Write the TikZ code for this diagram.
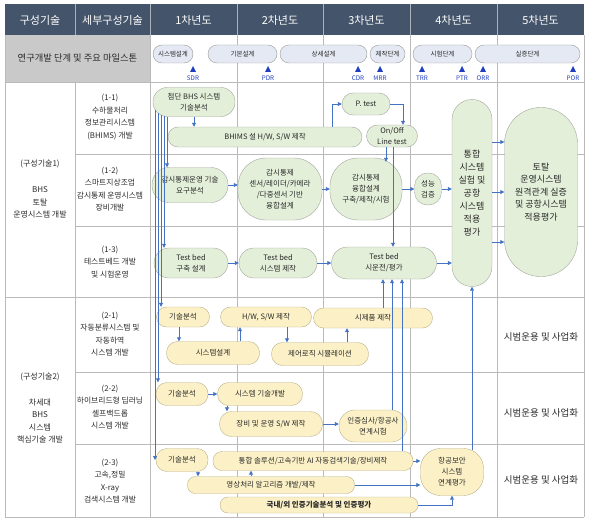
\documentclass[tikz,border=0pt]{standalone}
\usepackage{fontspec}
\setmainfont{Noto Sans CJK KR}
\usetikzlibrary{arrows.meta,calc}
\definecolor{PlanHead}{HTML}{44546A}
\definecolor{PlanGray}{HTML}{C9C9C9}
\definecolor{PlanRule}{HTML}{BABABA}
\definecolor{PlanGreen}{HTML}{E3EFD9}
\definecolor{PlanYellow}{HTML}{FCF1C6}
\definecolor{PlanPill}{HTML}{E4E9F4}
\definecolor{PlanEdge}{HTML}{A3A89E}
\definecolor{PlanEdgeY}{HTML}{B9B08A}
\definecolor{PlanBlue}{HTML}{4472C4}
\definecolor{PlanMark}{HTML}{1F3FBF}
\definecolor{PlanText}{HTML}{2A2A2A}
\tikzset{
  hdr/.style={text=white,font=\fontsize{11}{12}\selectfont},
  grp/.style={align=center,text=PlanText,font=\fontsize{8}{12.5}\selectfont},
  sub/.style={align=center,text=PlanText,font=\fontsize{7.8}{12.5}\selectfont},
  biz/.style={text=PlanText,font=\fontsize{9.5}{11}\selectfont},
  pill/.style={draw=gray!80,fill=PlanPill,rounded corners=9,minimum height=18,inner sep=0,text=PlanText,font=\fontsize{6.5}{7}\selectfont},
  mlabel/.style={text=PlanMark,inner sep=0,font=\fontsize{6.3}{7}\selectfont},
  gbox/.style={draw=PlanEdge,fill=PlanGreen,rounded corners=10,inner sep=0,align=center,text=PlanText,font=\fontsize{7.5}{11}\selectfont},
  ybox/.style={gbox,draw=PlanEdgeY,fill=PlanYellow},
  arr/.style={PlanBlue,line width=0.8pt,-{Triangle[length=4pt,width=4pt]}},
}
\begin{document}
\begin{tikzpicture}[x=1pt,y=-1pt]
\useasboundingbox (0,0) rectangle (593,524);
% table
\fill[PlanHead] (5,4) rectangle (584,35);
\fill[PlanGray] (5,35) rectangle (150,82);
\foreach \gx in {75,150,237,323,410,497}
  \draw[white!55!PlanHead] (\gx,4) -- (\gx,35);
\foreach \gx in {150,237,323,410,497,584}
  \draw[PlanRule] (\gx,35) -- (\gx,517);
\draw[PlanRule] (75,82) -- (75,517);
\draw[PlanRule] (5,35) -- (5,517);
\foreach \gy in {82,297,517}
  \draw[PlanRule] (5,\gy) -- (584,\gy);
\foreach \gy in {154,226,372,444}
  \draw[PlanRule] (75,\gy) -- (584,\gy);
% header
\node[hdr] (tech) at (40,20) {구성기술};
\node[hdr] (subtech) at (112.5,20) {세부구성기술};
\foreach \i/\x in {1/193.5,2/280,3/366.5,4/453.5,5/540.5}
  \node[hdr] (yr\i) at (\x,20) {{\i}차년도};
% milestones
\node[text=PlanText,font=\fontsize{9.3}{10}\selectfont] (msrow) at (77.5,58) {연구개발 단계 및 주요 마일스톤};
\foreach \pn/\ps/\px/\pw in {1/시스템설계/173/40,2/기본설계/242.5/69,3/상세설계/323.5/87,4/제작단계/387.5/35,5/시험단계/442.5/59,6/실증단계/527.5/105}
  \node[pill,minimum width=\pw] (pill\pn) at (\px,54) {\ps};
\foreach \ms/\mx in {SDR/193,PDR/268,CDR/358,MRR/380,TRR/422,PTR/462,ORR/483,POR/573}{
  \fill[PlanMark] (\mx-3,72) -- (\mx+3,72) -- (\mx,66) -- cycle;
  \node[mlabel] (\ms) at (\mx,78) {\ms};
}
% row titles
\node[grp] (grp1) at (40,189) {(구성기술1)\\[14pt]BHS\\토탈\\운영시스템 개발};
\node[grp] (grp2) at (40,408) {(구성기술2)\\[13pt]차세대\\BHS\\시스템\\핵심기술 개발};
\node[sub] (s11) at (110,117) {(1-1)\\수하물처리\\정보관리시스템\\(BHIMS) 개발};
\node[sub] (s12) at (110,189) {(1-2)\\스마트지상조업\\감시통제 운영시스템\\장비개발};
\node[sub] (s13) at (110,262) {(1-3)\\테스트베드 개발\\및 시험운영};
\node[sub] (s21) at (110,334) {(2-1)\\자동분류시스템 및\\자동하역\\시스템 개발};
\node[sub] (s22) at (110,407) {(2-2)\\하이브리드형 딥러닝\\셀프백드롭\\시스템 개발};
\node[sub] (s23) at (110,481) {(2-3)\\고속,정밀\\X-ray\\검색시스템 개발};
% 1-1
\node[gbox,minimum width=82,minimum height=29,rounded corners=14] (a1) at (194,102) {첨단 BHS 시스템\\기술분석};
\node[gbox,minimum width=194,minimum height=20] (a2) at (265,137) {BHIMS 설 H/W, S/W 제작};
\node[gbox,minimum width=48,minimum height=22,rounded corners=11] (ptest) at (366,104) {P. test};
\node[gbox,minimum width=51,minimum height=22,rounded corners=11] (onoff) at (392,136) {On/Off\\Line test};
% 1-2
\node[gbox,minimum width=76,minimum height=35,rounded corners=17] (b1) at (190,185) {감시통제운영 기술\\요구분석};
\node[gbox,minimum width=84,minimum height=62,rounded corners=28] (b2) at (280,189) {감시통제\\센서/레이더/카메라\\/다중센서 기반\\융합설계};
\node[gbox,minimum width=72,minimum height=62,rounded corners=28] (b3) at (366,189) {감시통제\\융합설계\\구축/제작/시험};
\node[gbox,minimum width=27,minimum height=32,rounded corners=13] (verif) at (428,189) {성능\\검증};
\node[gbox,minimum width=40,minimum height=187,rounded corners=20,font=\fontsize{9}{13}\selectfont] (sysint) at (472,193) {통합\\시스템\\실험 및\\공항\\시스템\\적용\\평가};
\node[gbox,minimum width=73,minimum height=169,rounded corners=36,font=\fontsize{9}{12.5}\selectfont] (total) at (541,192) {토탈\\운영시스템\\원격관계 실증\\및 공항시스템\\적용평가};
% 1-3
\node[gbox,minimum width=74,minimum height=30,rounded corners=15] (c1) at (191,263) {Test bed\\구축 설계};
\node[gbox,minimum width=78,minimum height=30,rounded corners=15] (c2) at (278,263) {Test bed\\시스템 제작};
\node[gbox,minimum width=105,minimum height=32,rounded corners=16] (c3) at (384,263) {Test bed\\시운전/평가};
% 2-1
\node[ybox,minimum width=53,minimum height=20] (f1) at (183,317) {기술분석};
\node[ybox,minimum width=91,minimum height=20] (f2) at (266,317) {H/W, S/W 제작};
\node[ybox,minimum width=119,minimum height=20] (f3) at (373,318) {시제품 제작};
\node[ybox,minimum width=93,minimum height=23,rounded corners=11] (f4) at (213,353) {시스템설계};
\node[ybox,minimum width=97,minimum height=23,rounded corners=11] (f5) at (320,354) {제어로직 시뮬레이션};
% 2-2
\node[ybox,minimum width=52,minimum height=23,rounded corners=11] (g1) at (182,394) {기술분석};
\node[ybox,minimum width=85,minimum height=23,rounded corners=11] (g2) at (260,394) {시스템 기술개발};
\node[ybox,minimum width=103,minimum height=25,rounded corners=12] (g3) at (271,424) {장비 및 운영 S/W 제작};
\node[ybox,minimum width=68,minimum height=32,rounded corners=16] (g4) at (373,426) {인증심사/항공사\\연계시험};
% 2-3
\node[ybox,minimum width=52,minimum height=23,rounded corners=11] (h1) at (182,460) {기술분석};
\node[ybox,minimum width=200,minimum height=19,rounded corners=9] (h2) at (313,461) {통합 솔루션/고속기반 AI 자동검색기술/장비제작};
\node[ybox,minimum width=167,minimum height=17,rounded corners=8] (h3) at (271,485) {영상처리 알고리즘 개발/제작};
\node[ybox,minimum width=198,minimum height=16,rounded corners=8,font=\fontsize{7.5}{11}\selectfont\bfseries] (h4) at (319,505) {국내/외 인증기술분석 및 인증평가};
\node[ybox,minimum width=63,minimum height=47,rounded corners=20] (h5) at (452,472) {항공보안\\시스템\\연계평가};
% year 5
\node[biz] (biz1) at (541,337) {시범운용 및 사업화};
\node[biz] (biz2) at (541,413) {시범운용 및 사업화};
\node[biz] (biz3) at (541,480) {시범운용 및 사업화};
% lanes from the first analysis
\draw[arr] (a1.south -| 167,0) -- (b1.north -| 167,0);
\draw[arr] ($(a1.south -| 164,0)+(0,-1)$) -- (c1.north -| 164,0);
\draw[arr] ($(a1.south -| 161,0)+(0,-2)$) -- (f1.north -| 161,0);
\draw[arr] ($(a1.south -| 158,0)+(0,-4)$) -- (g1.north -| 158,0);
\draw[arr] ($(a1.south -| 155,0)+(0,-7)$) -- (h1.center -| 155,0);
% 1-1 links
\draw[arr] (a1.south) -- (a1.south |- a2.north);
\draw[arr] (a2.north -| 332,0) |- (ptest.west);
\draw[arr] (ptest.east) -| (onoff.north -| 403,0);
\draw[arr] (onoff.south -| 386,0) -- ($(b3.north -| 386,0)+(0,4)$);
\draw[arr] (onoff.south -| 393,0) -- (c3.north -| 393,0);
% 1-2 links
\draw[arr] (b1.east) -- (b1.east -| b2.west);
\draw[arr] (b2.east) -- (b3.west);
\draw[arr] (b3.east) -- (verif.west);
\draw[arr] (verif.east) -- (verif.east -| sysint.west);
\foreach \yy in {142,192,242}
  \draw[arr] (sysint.east |- 0,\yy) -- (total.west |- 0,\yy);
% 1-3 links
\draw[arr] (c1.east) -- (c2.west);
\draw[arr] (c2.east) -- (c3.west);
\draw[arr] (c3.east) -- (c3.east -| sysint.west);
% 2-1 links
\draw[arr] (f1.south -| 179,0) -- (f4.north -| 179,0);
\draw[arr] (f4.north -| 240,0) -- (f2.south -| 240,0);
\draw[arr] (f2.south -| 287,0) -- (f5.north -| 287,0);
\draw[arr] (f5.north -| 347,0) -- (f3.south -| 347,0);
% 2-2 links
\draw[arr] (g1.east) -- (g2.west);
\draw[arr] (g2.south -| 227,0) -- (g3.north -| 227,0);
\draw[arr] (g3.east) -- (g3.east -| g4.west);
% 2-3 links
\draw[arr] (h1.south -| 198,0) -- (h3.north -| 198,0);
\draw[arr] (h3.north -| 251,0) -- (h2.south -| 251,0);
\draw[arr] (h2.east) -- (h2.east -| h5.west);
\draw[arr] (h3.east) -- (h3.east -| h5.west);
\draw[arr] (h4.east) -| (h5.south);
% feed back to test bed and integration
\draw[arr] (f3.north -| 383,0) -- (c3.south -| 383,0);
\draw[arr] (g4.north -| 392,0) -- (c3.south -| 392,0);
\draw[arr] (h2.north -| 402,0) -- (c3.south -| 402,0);
\draw[arr] ($(h5.north -| sysint.south)+(0,2)$) -- (sysint.south);
\end{tikzpicture}
\end{document}
